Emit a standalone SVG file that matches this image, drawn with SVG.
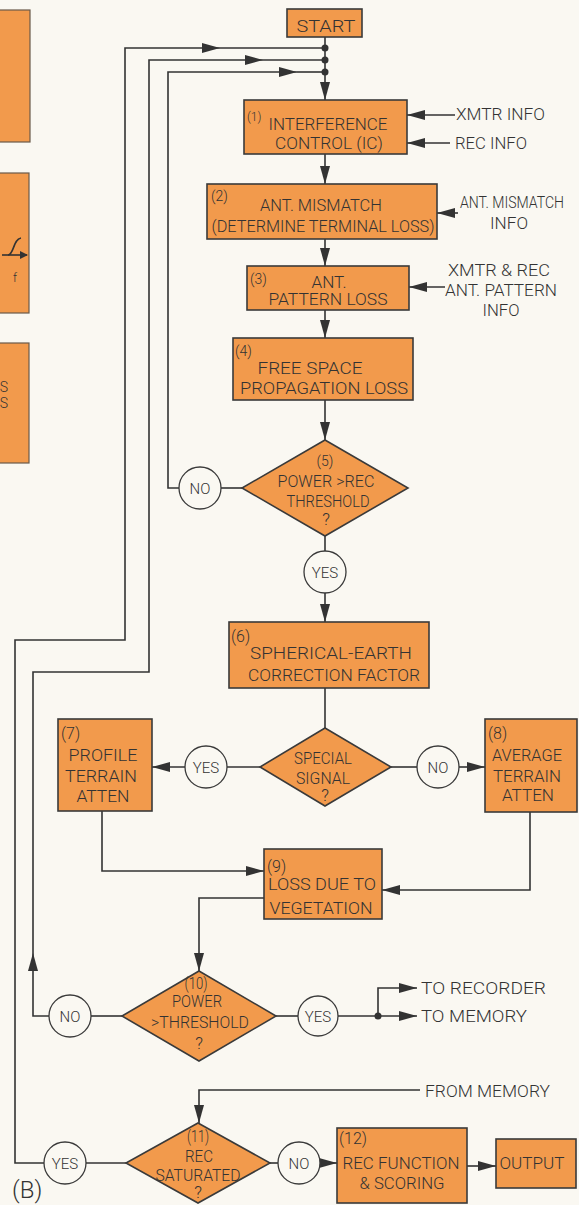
<svg xmlns="http://www.w3.org/2000/svg" width="579" height="1205" viewBox="0 0 579 1205">
<style>
.bg{fill:#faf8f2}
.box{fill:#f29a4c;stroke:#3a3a3a;stroke-width:1.6}
.side{fill:#f29a4c;stroke:#6a5a4a;stroke-width:1.2}
.circ{fill:#faf8f2;stroke:#3a3a3a;stroke-width:1.3}
.ln{fill:none;stroke:#333;stroke-width:1.6}
.t{font-family:Roboto,"Liberation Sans",Arial,sans-serif;font-size:17px;font-weight:300;fill:#333}
.m{text-anchor:middle}
.n{font-size:14px}
.c{font-size:15px}
.dot{fill:#333}
</style>
<defs>
<marker id="ah" markerUnits="userSpaceOnUse" markerWidth="18" markerHeight="12" refX="18" refY="6" orient="auto"><path d="M0,1 L18,6 L0,11 Z" fill="#333"/></marker>
</defs>
<rect class="bg" width="579" height="1205"/>

<g id="side-panels">
<rect class="side" x="-5" y="10" width="35" height="132"/>
<rect class="side" x="-5" y="173" width="34" height="140"/>
<path class="ln" d="M2,255 H27" stroke-width="1.2"/>
<path d="M20,251 L28,255 L20,259 Z" fill="#333"/>
<path class="ln" d="M8,255 C14,255 13,239 21,238" stroke-width="1.2"/>
<text class="t" x="15" y="282" style="font-size:12px" text-anchor="middle">f</text>
<rect class="side" x="-5" y="343" width="34" height="120"/>
<text class="t" x="8" y="392" text-anchor="end" style="font-size:14px">S</text>
<text class="t" x="8" y="408" text-anchor="end" style="font-size:14px">S</text>
</g>

<g id="connectors">
<path class="ln" d="M325,37 V100" marker-end="url(#ah)"/>
<path class="ln" d="M44,1163 H15 V640 H125 V48 H220" marker-end="url(#ah)"/>
<path class="ln" d="M220,48 H325"/>
<path class="ln" d="M49,1016 H33 V953" marker-end="url(#ah)"/>
<path class="ln" d="M33,953 V672 H149 V60 H263" marker-end="url(#ah)"/>
<path class="ln" d="M263,60 H325"/>
<path class="ln" d="M179,488 H168 V72 H297" marker-end="url(#ah)"/>
<path class="ln" d="M297,72 H325"/>
<circle class="dot" cx="325" cy="48" r="3.5"/>
<circle class="dot" cx="325" cy="60" r="3.5"/>
<circle class="dot" cx="325" cy="72" r="3.5"/>
<path class="ln" d="M455,115 H407" marker-end="url(#ah)"/>
<path class="ln" d="M450,143 H407" marker-end="url(#ah)"/>
<path class="ln" d="M325,154 V184" marker-end="url(#ah)"/>
<path class="ln" d="M458,213 H437" marker-end="url(#ah)"/>
<path class="ln" d="M325,239 V266" marker-end="url(#ah)"/>
<path class="ln" d="M445,287 H409" marker-end="url(#ah)"/>
<path class="ln" d="M325,310 V338" marker-end="url(#ah)"/>
<path class="ln" d="M325,400 V440" marker-end="url(#ah)"/>
<path class="ln" d="M242,488 H221"/>
<path class="ln" d="M325,536 V551"/>
<path class="ln" d="M325,593 V622" marker-end="url(#ah)"/>
<path class="ln" d="M325,688 V728"/>
<path class="ln" d="M260,767 H227"/>
<path class="ln" d="M185,767 H152" marker-end="url(#ah)"/>
<path class="ln" d="M391,767 H417"/>
<path class="ln" d="M459,767 H485" marker-end="url(#ah)"/>
<path class="ln" d="M102,811 V871 H264" marker-end="url(#ah)"/>
<path class="ln" d="M530,812 V890 H382" marker-end="url(#ah)"/>
<path class="ln" d="M264,898 H199 V971" marker-end="url(#ah)"/>
<path class="ln" d="M122,1016 H91"/>
<path class="ln" d="M276,1016 H298"/>
<path class="ln" d="M338,1016 H417" marker-end="url(#ah)"/>
<path class="ln" d="M378,1016 V988 H417" marker-end="url(#ah)"/>
<circle class="dot" cx="378" cy="1016" r="3.5"/>
<path class="ln" d="M420,1090 H199 V1123" marker-end="url(#ah)"/>
<path class="ln" d="M126,1163 H86"/>
<path class="ln" d="M270,1163 H278"/>
<path class="ln" d="M320,1163 H337" marker-end="url(#ah)"/>
<path class="ln" d="M467,1166 H496" marker-end="url(#ah)"/>
</g>

<g id="start">
<rect class="box" x="287" y="9" width="75" height="28"/>
<text class="t m" x="326" y="32" textLength="59" lengthAdjust="spacingAndGlyphs">START</text>
</g>

<g id="n1">
<rect class="box" x="244" y="100" width="163" height="54"/>
<text class="t" x="247" y="121" style="font-size:12px">(1)</text>
<text class="t m" x="328" y="130" textLength="119" lengthAdjust="spacingAndGlyphs">INTERFERENCE</text>
<text class="t m" x="329" y="149" textLength="108" lengthAdjust="spacingAndGlyphs">CONTROL (IC)</text>
</g>
<g id="xmtr-info"><text class="t" x="456" y="120" textLength="89" lengthAdjust="spacingAndGlyphs">XMTR INFO</text></g>
<g id="rec-info"><text class="t" x="455" y="149" textLength="72" lengthAdjust="spacingAndGlyphs">REC INFO</text></g>

<g id="n2">
<rect class="box" x="207" y="184" width="230" height="55"/>
<text class="t n" x="211" y="201">(2)</text>
<text class="t m" x="321" y="211" textLength="122" lengthAdjust="spacingAndGlyphs">ANT. MISMATCH</text>
<text class="t m" x="323" y="232" textLength="223" lengthAdjust="spacingAndGlyphs">(DETERMINE TERMINAL LOSS)</text>
</g>
<g id="mismatch-info">
<text class="t m" x="512" y="208" textLength="104" lengthAdjust="spacingAndGlyphs">ANT. MISMATCH</text>
<text class="t m" x="509" y="229" textLength="38" lengthAdjust="spacingAndGlyphs">INFO</text>
</g>

<g id="n3">
<rect class="box" x="247" y="266" width="162" height="44"/>
<text class="t n" x="250" y="284">(3)</text>
<text class="t m" x="329" y="288" textLength="35" lengthAdjust="spacingAndGlyphs">ANT.</text>
<text class="t m" x="328" y="305" textLength="119" lengthAdjust="spacingAndGlyphs">PATTERN LOSS</text>
</g>
<g id="pattern-info">
<text class="t m" x="499" y="276" textLength="102" lengthAdjust="spacingAndGlyphs">XMTR &amp; REC</text>
<text class="t m" x="501" y="296" textLength="112" lengthAdjust="spacingAndGlyphs">ANT. PATTERN</text>
<text class="t m" x="501" y="316" textLength="37" lengthAdjust="spacingAndGlyphs">INFO</text>
</g>

<g id="n4">
<rect class="box" x="233" y="338" width="180" height="62"/>
<text class="t n" x="235" y="356">(4)</text>
<text class="t m" x="310" y="374" textLength="105" lengthAdjust="spacingAndGlyphs">FREE  SPACE</text>
<text class="t m" x="324" y="394" textLength="168" lengthAdjust="spacingAndGlyphs">PROPAGATION LOSS</text>
</g>

<g id="d5">
<polygon class="box" points="325,440 408,488 325,536 242,488"/>
<text class="t m n" x="325" y="466">(5)</text>
<text class="t m" x="326" y="487" textLength="97" lengthAdjust="spacingAndGlyphs">POWER &gt;REC</text>
<text class="t m" x="328" y="507" textLength="83" lengthAdjust="spacingAndGlyphs">THRESHOLD</text>
<text class="t m" x="326" y="525">?</text>
</g>
<g id="no5">
<circle class="circ" cx="200" cy="488" r="21"/>
<text class="t m c" x="200" y="494">NO</text>
</g>
<g id="yes5">
<circle class="circ" cx="325" cy="572" r="21"/>
<text class="t m c" x="325" y="578">YES</text>
</g>

<g id="n6">
<rect class="box" x="229" y="622" width="200" height="66"/>
<text class="t" x="231" y="642" style="font-size:16px">(6)</text>
<text class="t m" x="331" y="659" textLength="162" lengthAdjust="spacingAndGlyphs">SPHERICAL-EARTH</text>
<text class="t m" x="334" y="681" textLength="172" lengthAdjust="spacingAndGlyphs">CORRECTION FACTOR</text>
</g>

<g id="d-special">
<polygon class="box" points="325,728 391,767 325,806 260,767"/>
<text class="t m" x="323" y="764" textLength="58" lengthAdjust="spacingAndGlyphs">SPECIAL</text>
<text class="t m" x="323" y="784" textLength="54" lengthAdjust="spacingAndGlyphs">SIGNAL</text>
<text class="t m" x="325" y="801">?</text>
</g>
<g id="yes-special">
<circle class="circ" cx="206" cy="767" r="21"/>
<text class="t m c" x="206" y="773">YES</text>
</g>
<g id="no-special">
<circle class="circ" cx="438" cy="767" r="21"/>
<text class="t m c" x="438" y="773">NO</text>
</g>

<g id="n7">
<rect class="box" x="58" y="719" width="94" height="92"/>
<text class="t" x="61" y="739" style="font-size:16px">(7)</text>
<text class="t m" x="103" y="761" textLength="69" lengthAdjust="spacingAndGlyphs">PROFILE</text>
<text class="t m" x="101" y="782" textLength="72" lengthAdjust="spacingAndGlyphs">TERRAIN</text>
<text class="t m" x="103" y="802" textLength="53" lengthAdjust="spacingAndGlyphs">ATTEN</text>
</g>

<g id="n8">
<rect class="box" x="485" y="719" width="92" height="93"/>
<text class="t" x="488" y="739" style="font-size:16px">(8)</text>
<text class="t m" x="527" y="761" textLength="70" lengthAdjust="spacingAndGlyphs">AVERAGE</text>
<text class="t m" x="527" y="782" textLength="68" lengthAdjust="spacingAndGlyphs">TERRAIN</text>
<text class="t m" x="528" y="801" textLength="52" lengthAdjust="spacingAndGlyphs">ATTEN</text>
</g>

<g id="n9">
<rect class="box" x="264" y="849" width="118" height="70"/>
<text class="t" x="267" y="872" style="font-size:16px">(9)</text>
<text class="t m" x="322" y="890" textLength="108" lengthAdjust="spacingAndGlyphs">LOSS DUE TO</text>
<text class="t m" x="321" y="914" textLength="103" lengthAdjust="spacingAndGlyphs">VEGETATION</text>
</g>

<g id="d10">
<polygon class="box" points="199,971 276,1016 199,1061 122,1016"/>
<text class="t m" x="196" y="989" textLength="23" lengthAdjust="spacingAndGlyphs">(10)</text>
<text class="t m" x="197" y="1007" textLength="50" lengthAdjust="spacingAndGlyphs">POWER</text>
<text class="t m" x="200" y="1028" textLength="98" lengthAdjust="spacingAndGlyphs">&gt;THRESHOLD</text>
<text class="t m" x="199" y="1049">?</text>
</g>
<g id="no10">
<circle class="circ" cx="70" cy="1016" r="21"/>
<text class="t m c" x="70" y="1022">NO</text>
</g>
<g id="yes10">
<circle class="circ" cx="318" cy="1016" r="20"/>
<text class="t m c" x="318" y="1022">YES</text>
</g>
<g id="to-recorder"><text class="t" x="421" y="994" textLength="125" lengthAdjust="spacingAndGlyphs">TO RECORDER</text></g>
<g id="to-memory"><text class="t" x="421" y="1022" textLength="106" lengthAdjust="spacingAndGlyphs">TO MEMORY</text></g>
<g id="from-memory"><text class="t" x="425" y="1097" textLength="125" lengthAdjust="spacingAndGlyphs">FROM MEMORY</text></g>

<g id="d11">
<polygon class="box" points="198,1123 270,1163 198,1203 126,1163"/>
<text class="t m" x="198" y="1142" textLength="22" lengthAdjust="spacingAndGlyphs">(11)</text>
<text class="t m" x="199" y="1162" textLength="28" lengthAdjust="spacingAndGlyphs">REC</text>
<text class="t m" x="198" y="1181" textLength="85" lengthAdjust="spacingAndGlyphs">SATURATED</text>
<text class="t m" x="198" y="1198">?</text>
</g>
<g id="yes11">
<circle class="circ" cx="65" cy="1163" r="21"/>
<text class="t m c" x="65" y="1169">YES</text>
</g>
<g id="no11">
<circle class="circ" cx="299" cy="1163" r="21"/>
<text class="t m c" x="299" y="1169">NO</text>
</g>

<g id="n12">
<rect class="box" x="337" y="1128" width="130" height="75"/>
<text class="t" x="339" y="1144" style="font-size:16px">(12)</text>
<text class="t m" x="401" y="1169" textLength="117" lengthAdjust="spacingAndGlyphs">REC FUNCTION</text>
<text class="t m" x="402" y="1189" textLength="85" lengthAdjust="spacingAndGlyphs">&amp; SCORING</text>
</g>

<g id="output">
<rect class="box" x="496" y="1139" width="80" height="49"/>
<text class="t m" x="532" y="1169" textLength="65" lengthAdjust="spacingAndGlyphs">OUTPUT</text>
</g>

<g id="label-b"><text class="t" x="12" y="1198" style="font-size:24px">(B)</text></g>
</svg>
